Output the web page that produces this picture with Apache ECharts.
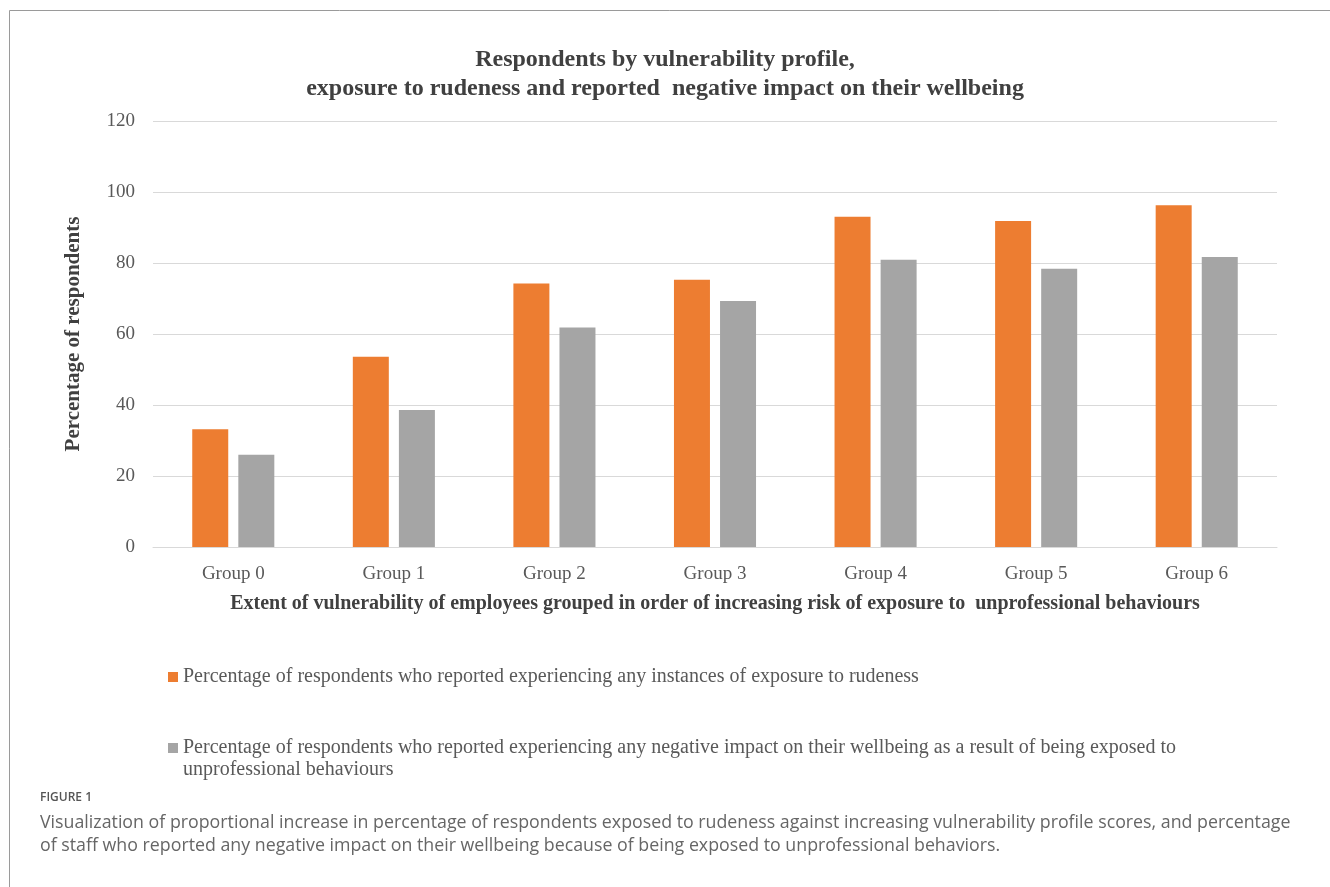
<!DOCTYPE html>
<html>
<head>
<meta charset="utf-8">
<script src="https://cdn.jsdelivr.net/npm/echarts@6/dist/echarts.min.js"></script>
<style>
  html, body { margin: 0; padding: 0; background: #fff; }
  #main { width: 1330px; height: 887px; }
</style>
</head>
<body>
<div id="main"></div>
<script>
// values
var categories = ['Group 0', 'Group 1', 'Group 2', 'Group 3', 'Group 4', 'Group 5', 'Group 6'];
var rudeness = [33.2, 53.6, 74.2, 75.3, 93.0, 91.8, 96.3];
var wellbeing = [26.0, 38.6, 61.8, 69.3, 80.9, 78.4, 81.7];
var yTicks = [0, 20, 40, 60, 80, 100, 120];

var nameRude = 'Percentage of respondents who reported experiencing any instances of exposure to rudeness';
var nameWell = 'Percentage of respondents who reported experiencing any negative impact on their wellbeing as a result of being exposed to unprofessional behaviours';

var serif = '"Liberation Serif", "Times New Roman", serif';
var sans = '"Open Sans", Lato, sans-serif';

var myChart = echarts.init(document.getElementById('main'));

option = {
    backgroundColor: '#fff',
    animation: false,
    title: {
        text: 'Respondents by vulnerability profile,\nexposure to rudeness and reported  negative impact on their wellbeing',
        left: 'center',
        top: 40,
        padding: [5, 0, 5, 13],
        textStyle: {
            fontFamily: serif,
            fontSize: 24,
            fontWeight: 'bold',
            color: '#404040',
            lineHeight: 29
        }
    },
    legend: [{
        data: [nameRude],
        orient: 'vertical',
        left: 168,
        top: 666,
        padding: 0,
        icon: 'rect',
        itemWidth: 10,
        itemHeight: 10,
        selectedMode: false,
        textStyle: {
            fontFamily: serif,
            fontSize: 20,
            color: '#595959',
            lineHeight: 22
        }
    }, {
        data: [nameWell],
        orient: 'vertical',
        left: 168,
        top: 715,
        padding: 0,
        icon: 'rect',
        itemWidth: 10,
        itemHeight: 10,
        selectedMode: false,
        // blank first line keeps the icon level with the first line of text
        formatter: function (name) {
            return '\n' + name.replace('exposed to ', 'exposed to\n');
        },
        textStyle: {
            fontFamily: serif,
            fontSize: 20,
            color: '#595959',
            lineHeight: 22
        }
    }],
    grid: {
        left: 153,
        right: 53,
        top: 121,
        bottom: 340,
        containLabel: false
    },
    xAxis: {
        type: 'category',
        data: categories,
        name: 'Extent of vulnerability of employees grouped in order of increasing risk of exposure to  unprofessional behaviours',
        nameLocation: 'middle',
        nameGap: 47,
        nameTextStyle: {
            fontFamily: serif,
            fontSize: 20,
            fontWeight: 'bold',
            color: '#404040'
        },
        axisTick: { show: false },
        axisLine: { lineStyle: { color: '#d9d9d9', width: 1 } },
        axisLabel: {
            margin: 18,
            fontFamily: serif,
            fontSize: 19,
            color: '#595959'
        }
    },
    yAxis: {
        type: 'value',
        min: yTicks[0],
        max: yTicks[yTicks.length - 1],
        interval: 20,
        name: 'Percentage of respondents',
        nameLocation: 'middle',
        nameGap: 69,
        nameTextStyle: {
            fontFamily: serif,
            fontSize: 21,
            fontWeight: 'bold',
            color: '#404040'
        },
        axisLine: { show: false },
        axisTick: { show: false },
        axisLabel: {
            margin: 18,
            fontFamily: serif,
            fontSize: 19,
            color: '#595959'
        },
        splitLine: { lineStyle: { color: '#d9d9d9', width: 1 } }
    },
    series: [{
        name: nameRude,
        type: 'bar',
        barWidth: 36,
        barGap: '28%',
        itemStyle: { color: '#ED7D31' },
        data: rudeness
    }, {
        name: nameWell,
        type: 'bar',
        barWidth: 36,
        itemStyle: { color: '#A5A5A5' },
        data: wellbeing
    }],
    graphic: [{
        type: 'line',
        shape: { x1: 9.5, y1: 10.5, x2: 1330, y2: 10.5 },
        style: { stroke: '#9a9a9a', lineWidth: 1 }
    }, {
        type: 'line',
        shape: { x1: 9.5, y1: 10.5, x2: 9.5, y2: 887 },
        style: { stroke: '#9a9a9a', lineWidth: 1 }
    }, {
        type: 'text',
        left: 40,
        top: 792,
        style: {
            text: 'FIGURE 1',
            fontFamily: sans,
            fontSize: 12,
            fontWeight: 600,
            fill: '#555'
        }
    }, {
        type: 'text',
        left: 40,
        top: 811,
        style: {
            text: 'Visualization of proportional increase in percentage of respondents exposed to rudeness against increasing vulnerability profile scores, and percentage\nof staff who reported any negative impact on their wellbeing because of being exposed to unprofessional behaviors.',
            fontFamily: sans,
            fontSize: 17.8,
            lineHeight: 23,
            fill: '#666'
        }
    }]
};

myChart.setOption(option);
</script>
</body>
</html>
